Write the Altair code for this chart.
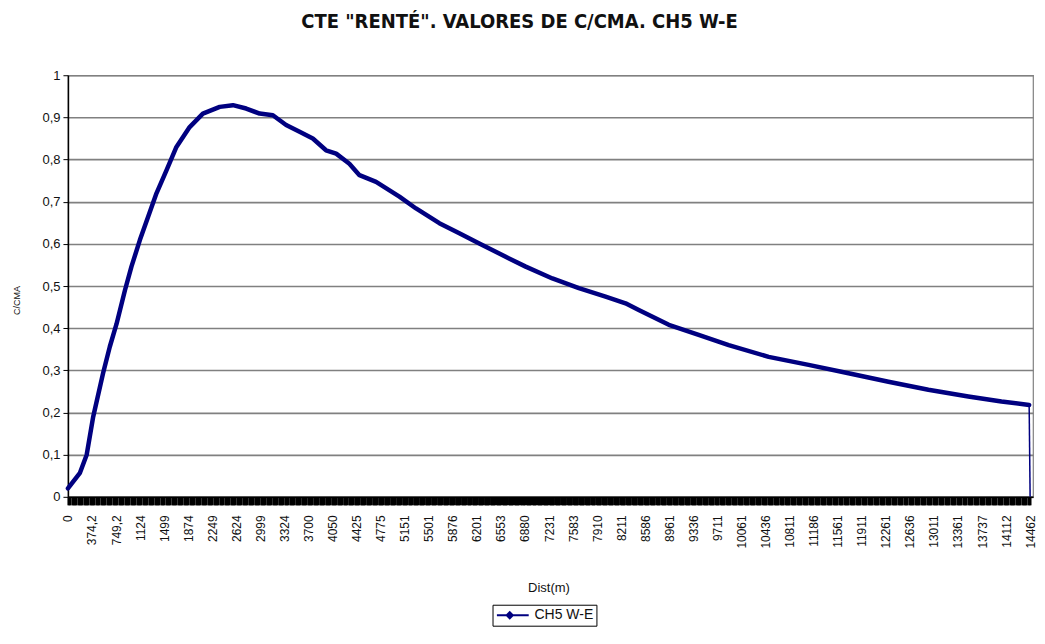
import json
import altair as alt
import pandas as pd

# ---- data ----
X_LABELS = ['0', '374,2', '749,2', '1124', '1499', '1874', '2249', '2624', '2999', '3324',
            '3700', '4050', '4425', '4775', '5151', '5501', '5876', '6201', '6553', '6880',
            '7231', '7583', '7910', '8211', '8586', '8961', '9336', '9711', '10061', '10436',
            '10811', '11186', '11561', '11911', '12261', '12636', '13011', '13361', '13737',
            '14112', '14462']

# position along the category axis (in label steps) and C/CMA value
POS = [0.0, 0.50, 0.78, 1.05, 1.46, 1.74, 2.02, 2.37, 2.64, 2.99, 3.33, 3.68, 4.10, 4.51,
       5.06, 5.61, 6.31, 6.86, 7.41, 7.97, 8.52, 9.07, 9.63, 10.18, 10.73, 11.15, 11.70,
       12.12, 12.81, 13.78, 14.47, 15.44, 16.27, 17.10, 17.93, 19.03, 20.14, 21.24, 22.35,
       23.18, 23.73, 24.98, 26.22, 27.47, 29.13, 30.79, 32.45, 34.11, 35.77, 37.43, 38.81,
       39.96]
VAL = [0.020, 0.057, 0.100, 0.190, 0.293, 0.356, 0.410, 0.490, 0.546, 0.609, 0.664, 0.720,
       0.775, 0.830, 0.877, 0.909, 0.925, 0.929, 0.921, 0.909, 0.905, 0.882, 0.866, 0.850,
       0.822, 0.814, 0.790, 0.763, 0.747, 0.712, 0.684, 0.649, 0.625, 0.601, 0.577, 0.546,
       0.518, 0.495, 0.475, 0.459, 0.443, 0.408, 0.384, 0.360, 0.332, 0.313, 0.293, 0.273,
       0.254, 0.238, 0.226, 0.218]
# final drop to zero at the last category
DROP_POS = [39.96, 40.0]
DROP_VAL = [0.218, 0.0]

SERIES = 'CH5 W-E'
TITLE = 'CTE "RENTÉ". VALORES DE C/CMA. CH5 W-E'
Y_TICKS = [0, 0.1, 0.2, 0.3, 0.4, 0.5, 0.6, 0.7, 0.8, 0.9, 1]

NAVY = '#000080'
FONT = 'Liberation Sans, Arial, sans-serif'
TITLE_FONT = 'Liberation Sans Narrow, DejaVu Sans Condensed, Liberation Sans, sans-serif'

curve = pd.DataFrame({'pos': POS, 'val': VAL, 'series': SERIES})
drop = pd.DataFrame({'pos': DROP_POS, 'val': DROP_VAL, 'series': SERIES})

x_tick_values = [round(i * 0.05, 2) for i in range(801)]
label_expr = ("datum.value % 1 == 0 ? " + json.dumps(X_LABELS) + "[datum.value] : ''")

x_enc = alt.X('pos:Q',
              scale=alt.Scale(domain=[0, 40.12], nice=False, zero=False),
              axis=alt.Axis(values=x_tick_values, tickCount=2000, labelExpr=label_expr,
                            labelAngle=270, labelAlign='right', labelBaseline='middle',
                            labelOverlap=False, labelBound=False, labelFlush=False,
                            labelFont=FONT, labelFontSize=12, labelColor='#111',
                            labelPadding=10,
                            tickSize=8, tickWidth=2, tickColor='black',
                            domainColor='black', domainWidth=1.5, grid=False,
                            title='Dist(m)', titleFont=FONT, titleFontSize=13,
                            titleFontWeight='normal', titleColor='#111',
                            titleX=481, titleY=85))

y_enc = alt.Y('val:Q',
              scale=alt.Scale(domain=[0, 1], nice=False),
              axis=alt.Axis(values=Y_TICKS,
                            labelExpr="replace(format(datum.value, '.1~f'), '.', ',')",
                            labelFont=FONT, labelFontSize=13, labelColor='#111',
                            labelPadding=3,
                            tickSize=5, tickColor='black', domainColor='black',
                            domainWidth=1.5,
                            grid=True, gridColor='#808080', gridWidth=1.6,
                            title='C/CMA', titleFont=FONT, titleFontSize=9,
                            titleFontWeight='normal', titleColor='#111',
                            titleX=-46, titleY=225))

color_enc = alt.Color('series:N',
                      scale=alt.Scale(domain=[SERIES], range=[NAVY]),
                      legend=alt.Legend(title=None, orient='none', legendX=425, legendY=530,
                                        direction='horizontal',
                                        strokeColor='black', padding=3,
                                        labelFont=FONT, labelFontSize=14, labelColor='#111',
                                        symbolType='M-1,0L4.2,0M1.1,-0.5L1.6,0L1.1,0.5L0.6,0Z',
                                        symbolSize=150, symbolStrokeWidth=2,
                                        symbolFillColor=NAVY, symbolStrokeColor=NAVY,
                                        labelOffset=24))

line = alt.Chart(curve).mark_line(strokeWidth=4.5, strokeJoin='round', strokeCap='round').encode(
    x=x_enc, y=y_enc, color=color_enc)
drop_line = alt.Chart(drop).mark_line(strokeWidth=1.5).encode(
    x='pos:Q', y='val:Q', color=color_enc)

chart = alt.layer(line, drop_line).properties(
    width=966, height=422,
    autosize=alt.AutoSizeParams(type='none'),
    padding={'left': 60, 'top': 67, 'right': 4, 'bottom': 134},
    title=alt.TitleParams(text=TITLE, font=TITLE_FONT, fontSize=20,
                          fontWeight='bold', color='#111', anchor='middle', dx=-31,
                          offset=37),
    background='white',
).configure_view(stroke='#808080', strokeWidth=1.2)

chart.save('out.html', embed_options={'renderer': 'svg', 'actions': False})
